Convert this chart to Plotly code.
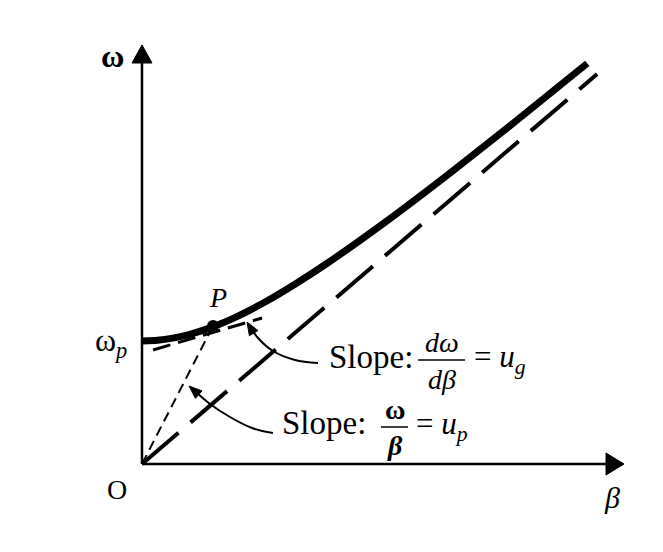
import math
import plotly.graph_objects as go

# ---- data (normalized: omega_p = 1) ----
beta_curve = [0.0, 0.125, 0.25, 0.375, 0.5, 0.625, 0.75, 1.0, 1.25, 1.5, 2.0, 2.5, 3.0, 3.62]
omega_curve = [1.000, 1.006, 1.023, 1.050, 1.088, 1.134, 1.188, 1.317, 1.466, 1.628, 1.983, 2.362, 2.756, 3.257]
omega_p = 1.0
P_beta = [0.577]
P_omega = [1.122]
asym_beta = [0.0, 3.70]
asym_omega = [0.0, 3.17]
tangent_beta = [0.09, 0.976]
tangent_omega = [0.927, 1.187]
chord_beta = [0.0, 0.577]
chord_omega = [0.0, 1.122]

# ---- layout helpers (page pixel -> data) ----
W, H = 663, 552
OFF = 8  # page body margin
OX, OY, U = 142, 464, 123.0
def dx(px): return (px - OX) / U
def dy(py): return (OY - py) / U

FONT = "Liberation Serif"

fig = go.Figure()

fig.add_trace(go.Scatter(x=asym_beta, y=asym_omega, mode="lines",
                         line=dict(color="black", width=4, dash="48px,16px"), hoverinfo="skip"))
fig.add_trace(go.Scatter(x=chord_beta, y=chord_omega, mode="lines",
                         line=dict(color="black", width=2, dash="10px,6px"), hoverinfo="skip"))
fig.add_trace(go.Scatter(x=tangent_beta, y=tangent_omega, mode="lines",
                         line=dict(color="black", width=3, dash="18px,8px"), hoverinfo="skip"))
fig.add_trace(go.Scatter(x=beta_curve, y=omega_curve, mode="lines",
                         line=dict(color="black", width=7, shape="spline", smoothing=0.6), hoverinfo="skip"))
fig.add_trace(go.Scatter(x=P_beta, y=P_omega, mode="markers",
                         marker=dict(color="black", size=12), hoverinfo="skip"))

# curved pointer arrows (annotation guides)
arc1 = [(318, 363), (295, 360), (273, 351), (258, 338), (251, 328)]
arc2 = [(273, 433), (252, 428), (230, 417), (210, 404), (196, 392)]
for arc in (arc1, arc2):
    fig.add_trace(go.Scatter(x=[dx(p[0]) for p in arc], y=[dy(p[1]) for p in arc], mode="lines",
                             line=dict(color="black", width=2, shape="spline"), hoverinfo="skip"))

shapes = []
# axes
shapes.append(dict(type="line", x0=0, y0=0, x1=dx(608), y1=0, xref="x", yref="y",
                   line=dict(color="black", width=2.5)))
shapes.append(dict(type="line", x0=0, y0=0, x1=0, y1=dy(60), xref="x", yref="y",
                   line=dict(color="black", width=2.5)))
def tri(tip, tail, length, half):
    vx, vy = tip[0] - tail[0], tip[1] - tail[1]
    n = math.hypot(vx, vy)
    ux, uy = vx / n, vy / n
    bx, by = tip[0] - ux * length, tip[1] - uy * length
    p1 = (bx - uy * half, by + ux * half)
    p2 = (bx + uy * half, by - ux * half)
    return dict(type="path", xref="x", yref="y", fillcolor="black", line=dict(color="black", width=1),
                path=f"M {dx(tip[0])} {dy(tip[1])} L {dx(p1[0])} {dy(p1[1])} L {dx(p2[0])} {dy(p2[1])} Z")
shapes.append(tri((142, 45), (142, 100), 18, 10))
shapes.append(tri((624, 464), (500, 464), 18, 11))
shapes.append(tri((247, 322), (253, 332), 13, 5))
shapes.append(tri((189, 386), (198, 394), 13, 5))
# fraction bars
shapes.append(dict(type="line", xref="x", yref="y", x0=dx(418), x1=dx(465), y0=dy(360), y1=dy(360),
                   line=dict(color="black", width=1.5)))
shapes.append(dict(type="line", xref="x", yref="y", x0=dx(381), x1=dx(408), y0=dy(427), y1=dy(427),
                   line=dict(color="black", width=1.5)))

ann = []
def txt(px, py, s, size=26, xanchor="center", italic=False, bold=False):
    if italic:
        s = f"<i>{s}</i>"
    if bold:
        s = f"<b>{s}</b>"
    ann.append(dict(x=dx(px), y=dy(py), xref="x", yref="y", text=s, showarrow=False,
                    xanchor=xanchor, yanchor="middle", font=dict(family=FONT, size=size, color="black")))

txt(112, 56, "ω", size=32, bold=True)
txt(111, 342, "ω<sub><i>p</i></sub>", size=32)
txt(218, 297, "P", size=28, italic=True)
txt(117, 489, "O", size=28)
txt(612, 497, "β", size=30, italic=True)

txt(327, 357, "Slope:", size=33, xanchor="left")
txt(442, 342, "dω", size=28, italic=True)
txt(442, 379, "dβ", size=28, italic=True)
txt(472, 359, "= <i>u</i><sub><i>g</i></sub>", size=31, xanchor="left")

txt(280, 423, "Slope:", size=33, xanchor="left")
txt(395, 409, "ω", size=28, bold=True)
txt(395, 445, "β", size=28, italic=True, bold=True)
txt(414, 426, "= <i>u</i><sub><i>p</i></sub>", size=31, xanchor="left")

fig.update_layout(
    width=W, height=H, margin=dict(l=0, r=0, t=0, b=0),
    paper_bgcolor="white", plot_bgcolor="white", showlegend=False,
    xaxis=dict(range=[dx(OFF), dx(W + OFF)], visible=False, fixedrange=True),
    yaxis=dict(range=[dy(H + OFF), dy(OFF)], visible=False, fixedrange=True),
    shapes=shapes, annotations=ann,
)

fig.write_html("out.html")
